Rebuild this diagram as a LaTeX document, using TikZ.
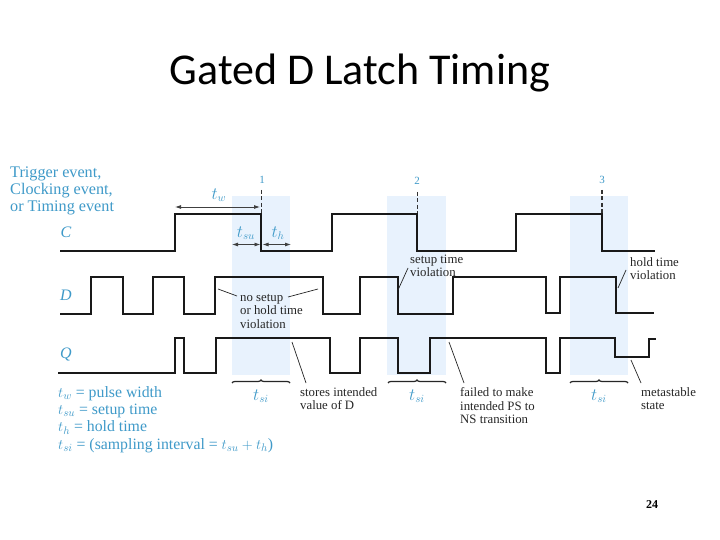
\documentclass[tikz,border=0pt]{standalone}
\usepackage{fontspec}
\setmainfont{Liberation Serif}
\newfontfamily\titlefont{Carlito}
\usetikzlibrary{arrows.meta,decorations.pathreplacing}
\definecolor{bandblue}{HTML}{E8F2FD}
\definecolor{labelblue}{HTML}{3F9AC9}
\tikzset{
  x=1pt,y=-1pt,
  wave/.style={line width=2pt,black!90,line join=miter},
  band/.style={fill=bandblue,draw=none},
  tick/.style={line width=1.1pt,dashed,dash pattern=on 4pt off 2.5pt,black!80},
  blue label/.style={text=labelblue,inner sep=0pt,font=\fontsize{16}{18}\selectfont},
  small blue/.style={text=labelblue,inner sep=0pt,font=\fontsize{11}{13}\selectfont},
  note/.style={text=black!85,inner sep=0pt,anchor=north west,align=left,font=\fontsize{12.8}{13.4}\selectfont},
  leader/.style={line width=0.7pt,black!85},
  dim/.style={line width=0.8pt,black!75,{Latex[length=6pt,width=4pt]}-{Latex[length=6pt,width=4pt]}},
  brace/.style={line width=1.2pt,black!85,decorate,decoration={brace,amplitude=3pt}}
}
\begin{document}
\begin{tikzpicture}
\useasboundingbox (0,0) rectangle (720,540);
\fill[white] (0,0) rectangle (720,540);
\node[inner sep=0pt,font=\titlefont\fontsize{44}{52}\selectfont] (title) at (360,73) {Gated D Latch Timing};
% sampling bands
\fill[band] (232,196) rectangle (290,375);
\fill[band] (387,196) rectangle (446,375);
\fill[band] (570,196) rectangle (628,375);
% event markers
\node[small blue] (n1) at (262,180) {1};
\node[small blue] (n2) at (417,181) {2};
\node[small blue] (n3) at (602,180) {3};
\coordinate (e1) at (261.5,214);
\coordinate (e2) at (417.3,214);
\coordinate (e3) at (602,214);
\draw[tick,line width=.7pt] (261.5,190) -- (e1);
\draw[tick,line width=.8pt] (417.3,192) -- (e2);
\draw[tick] (602,190) -- (e3);
% waveforms
\draw[wave] (60,250.7) -- (174.5,250.7) |- (261,214.3) |- (332,250.7) |- (417.3,214.3) |- (515.7,250.7) |- (602,214.3) |- (655,250.7);
\draw[wave] (60,314.3) -- (91,314.3) |- (123,277.3) |- (153,314.3) |- (183.7,277.3) |- (214.7,314.3) |- (323,277.3) |- (360,314.3) |- (398,277.3) |- (452.7,314.3) |- (546,277.3) |- (560,313) |- (616,277.3) |- (654,312.7);
\draw[wave] (58,373.3) -- (175,373.3) |- (184,338.3) |- (216,373.3) |- (330,338.3) |- (360,373.3) |- (398,338.3) |- (430,372.5) |- (546,338.3) |- (560,373) |- (615,338.3) |- (649.3,356.7) |- (656,339);
% left labels
\node[blue label,anchor=north west,align=left,font=\fontsize{16.2}{17}\selectfont] (trig) at (10,167) {Trigger event,\\Clocking event,\\or Timing event};
\node[blue label,font=\fontsize{16}{18}\selectfont\itshape] (C) at (66,232) {C};
\node[blue label,font=\fontsize{16}{18}\selectfont\itshape] (D) at (66,295.5) {D};
\node[blue label,font=\fontsize{16}{18}\selectfont\itshape] (Q) at (66,354) {Q};
% dimensions
\coordinate (tw1) at (175,207); \coordinate (tw2) at (260,207);
\coordinate (su1) at (232,244.5); \coordinate (su2) at (260.5,244.5);
\coordinate (th1) at (262.5,244.5); \coordinate (th2) at (291,244.5);
\draw[dim] (tw1) -- (tw2);
\draw[dim] (su1) -- (su2);
\draw[dim] (th1) -- (th2);
\node[blue label] (tw) at (219,195) {$t_w$};
\node[blue label] (tsu) at (246,233) {$t_{su}$};
\node[blue label] (th) at (278,233) {$t_h$};
% notes
\node[note] (ns) at (240,294) {no setup\\or hold time\\violation};
\node[note] (sv) at (410,254.5) {setup time\\violation};
\node[note] (hv) at (630,257.5) {hold time\\violation};
\node[note] (st) at (300,387.5) {stores intended\\value of D};
\node[note] (fl) at (460,387.5) {failed to make\\intended PS to\\NS transition};
\node[note] (ms) at (641,387.5) {metastable\\state};
% leaders
\coordinate (a1) at (218,289); \coordinate (a2) at (318,289);
\coordinate (a3) at (398,290); \coordinate (a4) at (618,288);
\coordinate (a5) at (292,342); \coordinate (a6) at (449,342); \coordinate (a7) at (631,360);
\draw[leader] (a1) -- (237,296);
\draw[leader] (a2) -- (288,297);
\draw[leader] (a3) -- (408,268);
\draw[leader] (a4) -- (626,270);
\draw[leader] (a5) -- (306,383);
\draw[leader] (a6) -- (464,383);
\draw[leader] (a7) -- (641,383);
% braces
\coordinate (b1) at (232,383); \coordinate (b2) at (290,383);
\coordinate (b3) at (388,383); \coordinate (b4) at (446,383);
\coordinate (b5) at (570,383); \coordinate (b6) at (628,383);
\draw[brace] (b1) -- (b2);
\draw[brace] (b3) -- (b4);
\draw[brace] (b5) -- (b6);
\node[blue label] (s1) at (261,396) {$t_{si}$};
\node[blue label] (s2) at (417,396) {$t_{si}$};
\node[blue label] (s3) at (599,396) {$t_{si}$};
% legend
\node[blue label,anchor=north west,align=left,font=\fontsize{15.8}{17.3}\selectfont] (leg) at (58,386) {$t_w$ = pulse width\\$t_{su}$ = setup time\\$t_h$ = hold time\\$t_{si}$ = (sampling interval = $t_{su}+t_h$)};
% page number
\node[inner sep=0pt,font=\fontsize{12}{14}\selectfont\bfseries] (page) at (652,505) {24};
\end{tikzpicture}
\end{document}
